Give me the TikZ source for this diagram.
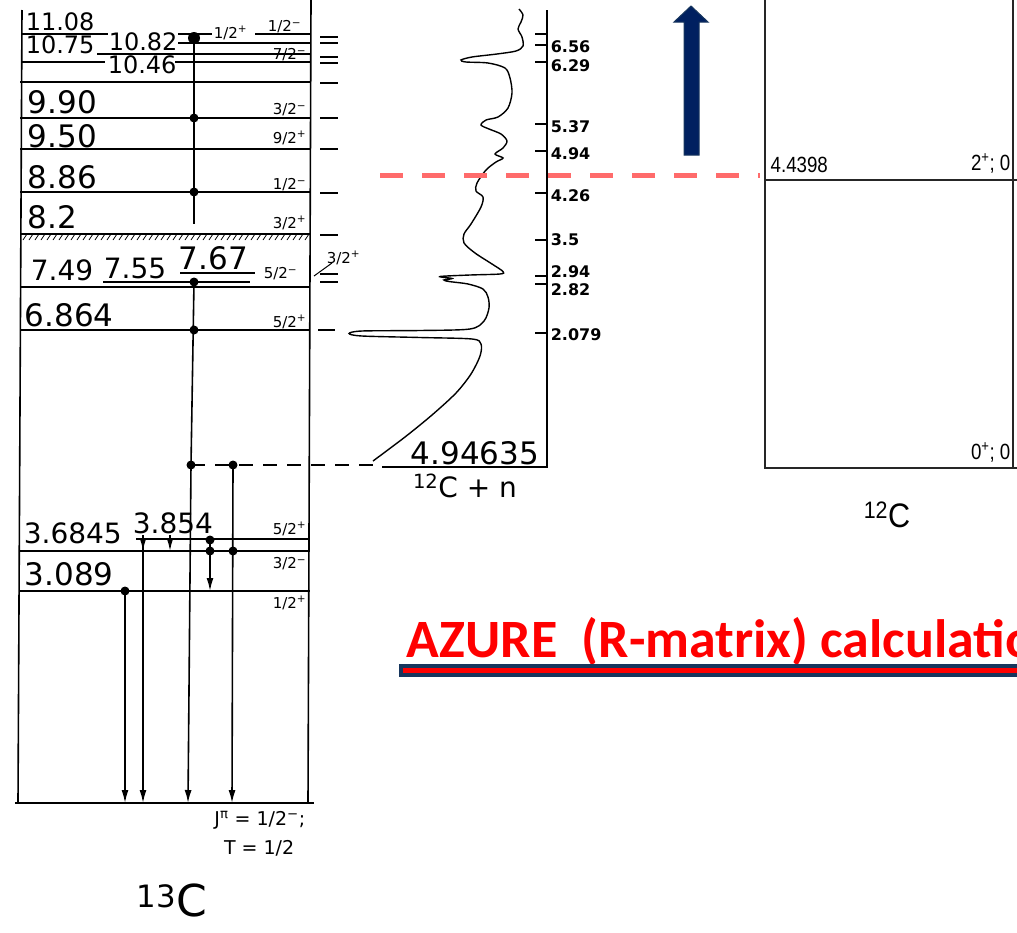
\documentclass[tikz,border=0pt]{standalone}
\usepackage{fontspec}
\setmainfont{DejaVu Sans}
\newfontfamily\azfont{Carlito}
\newfontfamily\fgfont{Liberation Sans}
\usetikzlibrary{arrows.meta}
\definecolor{azred}{HTML}{FF0000}
\definecolor{azbar}{HTML}{17365D}
\definecolor{azdash}{HTML}{FF6B6B}
\definecolor{arrnavy}{HTML}{002060}

\begin{document}
\begin{tikzpicture}[x=1pt,y=-1pt,line width=1.6pt,
  lvbig/.style={anchor=west,inner sep=0pt,font=\fontsize{31}{31}\selectfont},
  lvsmall/.style={anchor=west,inner sep=0pt,font=\fontsize{24}{24}\selectfont},
  jpi/.style={anchor=east,inner sep=0pt,font=\fontsize{15}{15}\selectfont},
  axlab/.style={anchor=west,inner sep=0pt,font=\fontsize{16}{16}\selectfont\bfseries},
  gam/.style={-{Latex[length=13pt,width=7pt]}},
  fg/.style={inner sep=0pt,xscale=0.85,font=\fgfont\fontsize{22}{22}\selectfont}]
  \useasboundingbox (0,0) rectangle (1017,932);

  % 13C level scheme
  \draw (22,10)--(18,803); \draw (311,0)--(308,803);
  \draw (15,803)--(314,803);
  \foreach \y in {82,118,149,192,287,330,551,591}
    \draw (20,\y)--(310,\y);
  \draw (21,34)--(108,34) (178,34)--(212,34) (255,34)--(311,34);
  \draw (178,43)--(311,43);
  \draw (97,54)--(311,54);
  \draw (21,62)--(105,62) (175,62)--(311,62);
  \draw (180,273)--(255,273); \draw (103,282)--(250,282);
  \draw (136,539)--(309,539);
  \draw (21,234)--(311,234);
  \foreach \x in {27,33,...,309}
    \draw[line width=0.8pt] (\x,234)--++(-4,6);

  \foreach \t/\x/\y in {11.08/25/22,10.75/25/45,10.82/108/42,10.46/107/65}
    \node[lvsmall] at (\x,\y) {\t};
  \foreach \t/\x/\y in {9.90/27/102,9.50/27/136,8.86/27/177,8.2/27/217,
      7.67/178/258,6.864/24/315,3.089/24/574}
    \node[lvbig] at (\x,\y) {\t};
  \foreach \t/\x/\y in {7.49/30/270,7.55/103/268,3.6845/23/533,3.854/132/523}
    \node[lvbig,font=\fontsize{28}{28}\selectfont] at (\x,\y) {\t};
  \node[jpi,anchor=west] at (213,33) {1/2\textsuperscript{+}};
  \node[jpi] at (302,27) {1/2\textsuperscript{−}};
  \foreach \y/\j/\s in {55/7/−,110/3/−,138/9/+,185/1/−,223/3/+,322/5/+,
      529/5/+,564/3/−,603/1/+}
    \node[jpi] at (307,\y) {\j/2\textsuperscript{\s}};
  \node[jpi] at (298,274) {5/2\textsuperscript{−}};
  \node[jpi,anchor=west] at (326,258) {3/2\textsuperscript{+}};
  \draw[line width=1pt] (314,276)--(332,263);

  % gamma transitions
  \coordinate (c1) at (191,465); \coordinate (c2) at (233,465);
  \draw (194,34)--(194,224);
  \draw (194,282)--(c1);
  \draw[gam] (c1)--(188,803);
  \draw[gam] (c2)--(232,803);
  \draw[gam] (143,539)--(143,803);
  \draw[gam] (125,591)--(125,803);
  \draw[gam] (210,540)--(210,591);
  \foreach \x in {143,170}
    \draw[gam] (\x,535)--(\x,551);
  \foreach \p in {(194,118),(194,192),(194,282),(194,330),(c1),(c2),
      (210,540),(210,551),(233,551),(125,591)}
    \fill \p circle(4.5pt);
  \fill (194,38) circle(6pt);
  \node[anchor=east,inner sep=0pt,font=\fontsize{19}{19}\selectfont] at (306,820)
    {J\textsuperscript{π} = 1/2\textsuperscript{−};};
  \node[anchor=east,inner sep=0pt,font=\fontsize{19}{19}\selectfont] at (295,848) {T = 1/2};
  \node[font=\fontsize{44}{44}\selectfont] at (172,900) {\textsuperscript{13}C};

  % 12C + n
  \foreach \y in {37,43,57,63,83,118,149,193,235,274,282}
    \draw (320,\y)--(338,\y);
  \draw (318,330)--(335,330);
  \draw[dash pattern=on 14pt off 10pt] (c1)--(373,465);
  \draw (547,10)--(547,467)--(382,467);
  \draw (535,34)--(547,34);
  \foreach \y/\ly/\t in {45/47/6.56,62/66/6.29,124/127/5.37,151/154/4.94,
      193/196/4.26,240/240/3.5,276/272/2.94,284/290/2.82,333/335/2.079}
    {\draw (535,\y)--(547,\y); \node[axlab] at (550,\ly) {\t};}
  \draw[line width=1.4pt] plot[smooth,tension=0.5] coordinates {
    (373,461) (405,437) (432,415) (456,393) (471,374) (480,356) (481,344)
    (472,339) (420,337.5) (362,336) (349,333.5) (362,331) (420,330.5)
    (470,329) (484,321) (489,308) (488,297) (483,289) (468,284)
    (449,281.5) (444,280) (452,278.5) (440,276.5) (470,275) (500,274)
    (503,271.5) (492,264) (475,253) (464,243) (464,234) (471,224)
    (481,207) (483,197) (476,191) (477,183) (486,170) (496,162)
    (503,158) (495,154) (503,148) (507,141) (501,134) (489,129)
    (481,125) (486,120) (498,117) (508,108) (512,93) (510,78) (505,68)
    (488,63) (466,62) (461,60) (472,57) (497,54) (516,51) (523,46)
    (522,37) (518,29) (521,22) (523,15) (519,9)};
  \node[lvbig] at (410,453) {4.94635};
  \node[font=\fontsize{28}{28}\selectfont] at (465,486) {\textsuperscript{12}C + n};

  % threshold and arrow
  \draw[azdash,line width=5pt,dash pattern=on 23pt off 19pt] (380,175)--(760,175);
  \filldraw[fill=arrnavy,draw=azbar,line width=1pt]
    (684,155)--(684,22)--(674,22)--(691,6)--(708,22)--(699,22)--(699,155)--cycle;

  % 12C
  \begin{scope}[line width=1.2pt,black!85]
    \draw (765,0)--(765,468)--(1017,468);
    \draw (1013,0)--(1013,468);
    \draw (765,180)--(1017,180);
  \end{scope}
  \node[fg,anchor=south west] at (770,174) {4.4398};
  \node[fg,anchor=south east] at (1011,174) {2\textsuperscript{+}; 0};
  \node[fg,anchor=south east] at (1011,463) {0\textsuperscript{+}; 0};
  \node[font=\fgfont\fontsize{34}{34}\selectfont,xscale=0.9] at (887,515) {\textsuperscript{12}C};

  % AZURE title
  \begin{scope}
    \clip (0,0) rectangle (1017,932);
    \node[anchor=base west,inner sep=0pt,text=azred,
      font=\azfont\bfseries\fontsize{54}{54}\selectfont] at (406,657)
      {AZURE\ \ (R-matrix) calculatio};
    \fill[azbar] (399,664) rectangle (1020,677);
    \fill[azred] (403,668) rectangle (1020,673);
  \end{scope}
\end{tikzpicture}
\end{document}
